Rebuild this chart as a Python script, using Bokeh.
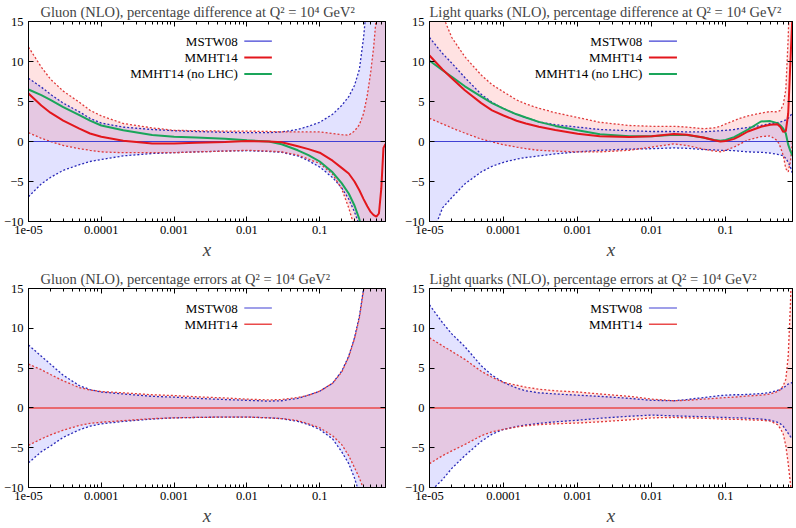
import math
from bokeh.plotting import figure
from bokeh.layouts import gridplot
from bokeh.models import (FixedTicker, CustomJSTickFormatter, LogAxis, LinearAxis,
                          Label, Arrow, Range1d)
from bokeh.embed import file_html
from bokeh.resources import INLINE

nan = float("nan")

# ---------------- axis definitions ----------------
X_MIN, X_MAX = 1e-5, 0.8
Y_MIN, Y_MAX = -10, 15
x_ticks = [1e-5, 1e-4, 1e-3, 1e-2, 1e-1]
x_tick_labels = ["1e-05", "0.0001", "0.001", "0.01", "0.1"]
y_ticks = [-10, -5, 0, 5, 10, 15]

# ---------------- gluon panels (x grid) ----------------
x_gluon = [1e-5, 1.5e-5, 2e-5, 3e-5, 5e-5, 7e-5, 1e-4, 2e-4, 5e-4, 1e-3,
           2e-3, 5e-3, 1e-2, 2e-2, 3e-2, 5e-2, 7e-2, 0.1, 0.15, 0.2,
           0.25, 0.3, 0.35, 0.4, 0.45, 0.5, 0.55, 0.6, 0.65, 0.7, 0.75, 0.8]

# percentage difference (top-left)
gdiff_mstw_up = [7.9, 6.8, 5.9, 4.8, 3.7, 2.9, 2.3, 1.8, 1.5, 1.35,
                 1.25, 1.15, 1.1, 1.1, 1.2, 1.5, 1.9, 2.4, 3.4, 4.5,
                 5.6, 7.0, 9.0, 13.0, 18.0, 24.0, 30.0, 37.0, 45.0, 54.0, 64.0, 75.0]
gdiff_mstw_lo = [-6.9, -5.3, -4.5, -3.6, -2.9, -2.5, -2.25, -1.8, -1.5, -1.4,
                 -1.3, -1.2, -1.15, -1.25, -1.35, -1.8, -2.4, -3.2, -4.5, -5.8,
                 -7.2, -8.8, -10.5, -13.0, -16.0, -20.0, -25.0, -30.0, -36.0, -43.0, -50.0, -58.0]
gdiff_mmht_up = [11.8, 9.3, 7.8, 6.3, 4.9, 3.9, 3.2, 2.25, 1.7, 1.4,
                 1.35, 1.3, 1.3, 1.25, 1.2, 1.2, 1.2, 1.2, 1.0, 0.85,
                 0.8, 1.3, 2.1, 3.5, 5.8, 8.6, 11.8, 15.8, 20.0, 26.0, 32.0, 40.0]
gdiff_mmht_lo = [1.1, 0.4, 0.0, -0.5, -0.9, -1.1, -1.3, -1.4, -1.4, -1.4,
                 -1.3, -1.2, -1.1, -1.2, -1.3, -1.7, -2.2, -2.75, -4.1, -5.9,
                 -8.3, -10.7, -13.0, -17.0, -21.0, -26.0, -31.0, -37.0, -44.0, -51.0, -59.0, -68.0]
gdiff_mstw = [0.0] * len(x_gluon)
gdiff_mmht = [6.0, 4.5, 3.6, 2.6, 1.6, 1.0, 0.6, 0.1, -0.25, -0.25,
              -0.15, -0.05, 0.05, 0.0, -0.1, -0.6, -0.95, -1.4, -2.4, -3.3,
              -4.0, -5.0, -6.1, -7.2, -8.1, -8.8, -9.2, -9.4, -9.0, -5.9, -0.8, -0.3]
gdiff_nolhc = [6.5, 5.8, 5.2, 4.3, 3.3, 2.6, 2.0, 1.4, 0.8, 0.6,
               0.5, 0.35, 0.15, 0.0, -0.35, -1.1, -1.7, -2.5, -3.85, -5.2,
               -6.5, -8.0, -9.7, -12.0, -15.0, nan, nan, nan, nan, nan, nan, nan]

# percentage errors (bottom-left)
gerr_mstw_up = [7.9, 6.5, 5.5, 4.1, 2.8, 2.3, 2.0, 1.75, 1.45, 1.35,
                1.2, 1.05, 0.95, 0.85, 0.9, 1.2, 1.6, 2.1, 3.1, 4.6,
                6.5, 8.8, 11.5, 15.0, 19.0, 24.0, 29.0, 35.0, 42.0, 50.0, 58.0, 67.0]
gerr_mstw_lo = [-6.9, -5.5, -4.8, -3.7, -2.75, -2.3, -2.0, -1.7, -1.4, -1.25,
                -1.2, -1.15, -1.15, -1.25, -1.35, -1.7, -2.1, -2.7, -3.9, -5.5,
                -7.0, -8.8, -10.8, -13.0, -16.0, -20.0, -24.0, -29.0, -35.0, -42.0, -50.0, -58.0]
gerr_mmht_up = [5.5, 4.8, 4.2, 3.4, 2.55, 2.25, 2.05, 1.9, 1.65, 1.55,
                1.4, 1.25, 1.1, 1.0, 1.05, 1.3, 1.6, 2.1, 3.1, 4.5,
                6.4, 8.7, 11.3, 14.8, 19.0, 24.0, 29.0, 35.0, 42.0, 50.0, 58.0, 67.0]
gerr_mmht_lo = [-4.7, -3.9, -3.4, -2.8, -2.2, -1.95, -1.8, -1.6, -1.35, -1.25,
                -1.2, -1.15, -1.15, -1.25, -1.35, -1.6, -2.0, -2.5, -3.5, -4.6,
                -6.0, -7.5, -8.8, -10.2, -12.0, -14.0, -17.0, -20.0, -24.0, -28.0, -33.0, -38.0]
gerr_central = [0.0] * len(x_gluon)

# ---------------- light quark panels (x grid) ----------------
x_quark = [1e-5, 1.5e-5, 2e-5, 3e-5, 5e-5, 7e-5, 1e-4, 1.5e-4, 2e-4, 3e-4,
           5e-4, 1e-3, 2e-3, 5e-3, 1e-2, 2e-2, 3e-2, 5e-2, 7e-2, 0.085,
           0.1, 0.13, 0.15, 0.2, 0.3, 0.4, 0.5, 0.55, 0.6, 0.65, 0.7, 0.75, 0.8]

# percentage difference (top-right)
qdiff_mstw_up = [13.0, 11.0, 9.8, 8.0, 5.9, 4.9, 4.1, 3.4, 3.0, 2.45,
                 2.1, 1.8, 1.5, 1.35, 1.25, 1.25, 1.2, 1.2, 1.3, 1.35,
                 1.4, 1.5, 1.6, 1.75, 2.0, 2.25, 2.35, 2.45, 2.55, 2.7, 2.9, 3.25, 3.5]
qdiff_mstw_lo = [-12.5, -8.3, -7.0, -5.3, -3.8, -3.1, -2.6, -2.2, -2.0, -1.8,
                 -1.55, -1.3, -1.1, -0.95, -0.9, -0.8, -0.85, -1.0, -1.05, -1.1,
                 -1.1, -1.15, -1.2, -1.3, -1.35, -1.45, -1.6, -1.7, -1.8, -2.1, -2.6, -3.2, -4.0]
qdiff_mmht_up = [19.5, 15.8, 13.0, 10.6, 8.3, 7.1, 6.2, 5.2, 4.7, 4.15,
                 3.6, 3.0, 2.4, 2.0, 1.9, 1.9, 1.8, 1.6, 1.7, 1.9,
                 2.2, 2.6, 2.85, 3.2, 3.55, 3.75, 3.7, 3.9, 4.6, 6.5, 13.0, 22.0, 30.0]
qdiff_mmht_lo = [2.9, 2.2, 1.7, 1.05, 0.3, -0.05, -0.4, -0.7, -0.9, -1.1,
                 -1.2, -1.3, -1.3, -1.1, -0.7, -0.3, -0.5, -0.95, -1.2, -1.3,
                 -1.1, -0.7, -0.4, 0.2, 0.6, 0.7, 0.1, -0.7, -1.75, -3.4, -3.8, -2.5, 0.0]
qdiff_mstw = [0.0] * len(x_quark)
qdiff_mmht = [10.75, 9.0, 7.9, 6.4, 4.8, 3.9, 3.25, 2.6, 2.25, 1.85,
              1.45, 0.96, 0.65, 0.55, 0.65, 0.95, 0.85, 0.5, 0.15, 0.0,
              0.05, 0.33, 0.6, 1.25, 1.85, 2.1, 2.15, 1.8, 1.2, 1.3, 3.5, 10.0, 16.0]
qdiff_nolhc = [10.1, 8.9, 8.1, 6.9, 5.6, 4.8, 4.1, 3.4, 3.0, 2.45,
               1.95, 1.4, 0.9, 0.65, 0.65, 0.85, 0.8, 0.5, 0.2, 0.1,
               0.2, 0.55, 0.85, 1.5, 2.5, 2.55, 2.3, 2.0, 1.6, 1.0, -0.4, -1.2, -1.75]

# percentage errors (bottom-right)
qerr_mstw_up = [12.95, 10.7, 9.3, 7.7, 5.3, 4.1, 3.2, 2.5, 2.15, 1.9,
                1.75, 1.6, 1.45, 1.2, 0.95, 0.9, 1.05, 1.3, 1.45, 1.55,
                1.6, 1.65, 1.65, 1.7, 1.8, 1.95, 2.2, 2.35, 2.5, 2.75, 3.0, 3.1, 3.2]
qerr_mstw_lo = [-10.6, -9.0, -7.6, -6.0, -4.2, -3.3, -2.7, -2.35, -2.15, -1.95,
                -1.75, -1.55, -1.3, -1.05, -0.9, -1.0, -1.05, -1.1, -1.15, -1.2,
                -1.2, -1.25, -1.25, -1.3, -1.4, -1.55, -1.8, -2.0, -2.3, -2.75, -3.2, -3.6, -3.9]
qerr_mmht_up = [8.8, 7.8, 7.1, 6.1, 4.6, 3.85, 3.2, 2.85, 2.6, 2.35,
                2.15, 2.0, 1.75, 1.45, 1.1, 0.9, 0.95, 1.1, 1.2, 1.25,
                1.3, 1.35, 1.4, 1.5, 1.6, 1.75, 2.05, 2.3, 2.8, 3.6, 6.5, 13.0, 22.0]
qerr_mmht_lo = [-7.0, -6.0, -5.4, -4.6, -3.5, -3.0, -2.7, -2.4, -2.25, -2.1,
                -2.0, -1.9, -1.75, -1.5, -1.25, -1.2, -1.25, -1.3, -1.35, -1.4,
                -1.4, -1.45, -1.45, -1.5, -1.55, -1.65, -2.1, -2.6, -3.3, -4.75, -7.0, -9.5, -13.0]
qerr_central = [0.0] * len(x_quark)

# ---------------- text ----------------
titles = [
    "Gluon (NLO), percentage difference at Q\u00b2 = 10\u2074 GeV\u00b2",
    "Light quarks (NLO), percentage difference at Q\u00b2 = 10\u2074 GeV\u00b2",
    "Gluon (NLO), percentage errors at Q\u00b2 = 10\u2074 GeV\u00b2",
    "Light quarks (NLO), percentage errors at Q\u00b2 = 10\u2074 GeV\u00b2",
]
legend_names = ["MSTW08", "MMHT14", "MMHT14 (no LHC)"]
x_label = "x"

# ---------------- styles ----------------
SERIF = "Liberation Serif"
BLUE = "#4040d4"
BLUE_DOT = "#2a2ab8"
RED = "#e3161c"
RED_DOT = "#e03a3a"
RED_THIN = "#ea4a4a"
GREEN = "#1aa55a"
BLUE_FILL = "#1e1eff"
RED_FILL = "#ff1e1e"
FILL_ALPHA = 0.13
FIG_W, FIG_H = 398, 264

x_minor = [m * 10.0 ** e for e in range(-5, 0) for m in range(2, 10) if m * 10.0 ** e <= X_MAX]

fmt_code = """
for (let i = 0; i < xt.length; i++) {
  if (Math.abs(Math.log10(tick) - Math.log10(xt[i])) < 1e-6) return xl[i];
}
return "";
"""


def style_axis(ax, show_labels=True):
    ax.axis_line_color = "black"
    ax.major_tick_in = 5
    ax.major_tick_out = 0
    ax.minor_tick_in = 3
    ax.minor_tick_out = 0
    ax.major_tick_line_color = "black"
    ax.minor_tick_line_color = "black"
    ax.major_label_text_font = SERIF
    if show_labels:
        ax.major_label_text_color = "black"
        ax.major_label_text_font_size = "12.5px"
    else:
        # mirror axis: ticks only, labels not painted
        ax.major_label_text_color = None
        ax.major_label_text_font_size = "1px"
        ax.major_label_standoff = 0


def make_panel(title, title_offset, xs, bands, band_cols, lines, legend_rows, borders):
    left, right, top, bottom = borders
    p = figure(width=FIG_W, height=FIG_H, x_axis_type="log",
               x_range=Range1d(X_MIN, X_MAX), y_range=Range1d(Y_MIN, Y_MAX),
               output_backend="svg", toolbar_location=None,
               min_border_left=left, min_border_right=right,
               min_border_top=top, min_border_bottom=bottom)
    p.title.text = title
    p.title.align = "left"
    p.title.offset = title_offset
    p.title.text_font = SERIF
    p.title.text_font_style = "normal"
    p.title.text_font_size = "14.5px"
    p.title.standoff = 3
    p.outline_line_color = "black"
    p.xgrid.visible = False
    p.ygrid.visible = False

    xticker = FixedTicker(ticks=x_ticks, minor_ticks=x_minor)
    yticker = FixedTicker(ticks=y_ticks, minor_ticks=[])
    fmt = CustomJSTickFormatter(args=dict(xt=x_ticks, xl=x_tick_labels), code=fmt_code)

    p.xaxis.ticker = xticker
    p.xaxis.formatter = fmt
    p.yaxis.ticker = yticker
    for ax in p.xaxis + p.yaxis:
        style_axis(ax)
    p.xaxis.major_label_standoff = 4
    p.yaxis.major_label_standoff = 5
    p.xaxis.axis_label = x_label
    p.xaxis.axis_label_text_font = SERIF
    p.xaxis.axis_label_text_font_style = "italic"
    p.xaxis.axis_label_text_font_size = "19px"
    p.xaxis.axis_label_standoff = 2

    top_ax = LogAxis(ticker=FixedTicker(ticks=x_ticks, minor_ticks=x_minor), formatter=fmt)
    style_axis(top_ax, show_labels=False)
    p.add_layout(top_ax, "above")
    right_ax = LinearAxis(ticker=FixedTicker(ticks=y_ticks, minor_ticks=[]))
    style_axis(right_ax, show_labels=False)
    p.add_layout(right_ax, "right")

    for (lo, up), (fcol, _) in zip(bands, band_cols):
        p.varea(x=xs, y1=lo, y2=up, fill_color=fcol, fill_alpha=FILL_ALPHA)
    for (lo, up), (_, lcol) in zip(bands, band_cols):
        p.line(xs, lo, line_color=lcol, line_width=1.3, line_dash="2 2")
        p.line(xs, up, line_color=lcol, line_width=1.3, line_dash="2 2")
    for ys, col, w in lines:
        p.line(xs, ys, line_color=col, line_width=w)

    # key: text right-aligned, sample line to its right (gnuplot style)
    for (name, col, w), yk in zip(legend_rows, [12.55, 10.5, 8.45]):
        p.add_layout(Label(x=0.0075, y=yk, text=name, text_align="right",
                           text_baseline="middle", text_font=SERIF,
                           text_font_size="13px", text_color="black"))
        p.add_layout(Arrow(start=None, end=None, x_start=0.0092, y_start=yk,
                           x_end=0.022, y_end=yk, line_color=col, line_width=w))
    return p


band_cols = [(BLUE_FILL, BLUE_DOT), (RED_FILL, RED_DOT)]
key3 = [(legend_names[0], BLUE, 1.2), (legend_names[1], RED, 2), (legend_names[2], GREEN, 2)]
key2 = [(legend_names[0], BLUE, 1.2), (legend_names[1], RED_THIN, 1.5)]

p1 = make_panel(titles[0], 12, x_gluon,
                [(gdiff_mstw_lo, gdiff_mstw_up), (gdiff_mmht_lo, gdiff_mmht_up)], band_cols,
                [(gdiff_mstw, BLUE, 1.2), (gdiff_nolhc, GREEN, 2), (gdiff_mmht, RED, 2)],
                key3, (24, 13, 21, 43))
p2 = make_panel(titles[1], 0, x_quark,
                [(qdiff_mstw_lo, qdiff_mstw_up), (qdiff_mmht_lo, qdiff_mmht_up)], band_cols,
                [(qdiff_mstw, BLUE, 1.2), (qdiff_nolhc, GREEN, 2), (qdiff_mmht, RED, 2)],
                key3, (31, 4, 21, 43))
p3 = make_panel(titles[2], 12, x_gluon,
                [(gerr_mstw_lo, gerr_mstw_up), (gerr_mmht_lo, gerr_mmht_up)], band_cols,
                [(gerr_central, RED_THIN, 1.5)],
                key2, (24, 13, 24, 41))
p4 = make_panel(titles[3], 0, x_quark,
                [(qerr_mstw_lo, qerr_mstw_up), (qerr_mmht_lo, qerr_mmht_up)], band_cols,
                [(qerr_central, RED_THIN, 1.5)],
                key2, (31, 4, 24, 41))

grid = gridplot([[p1, p2], [p3, p4]], toolbar_location=None)
open("out.html", "w").write(file_html(grid, INLINE))
